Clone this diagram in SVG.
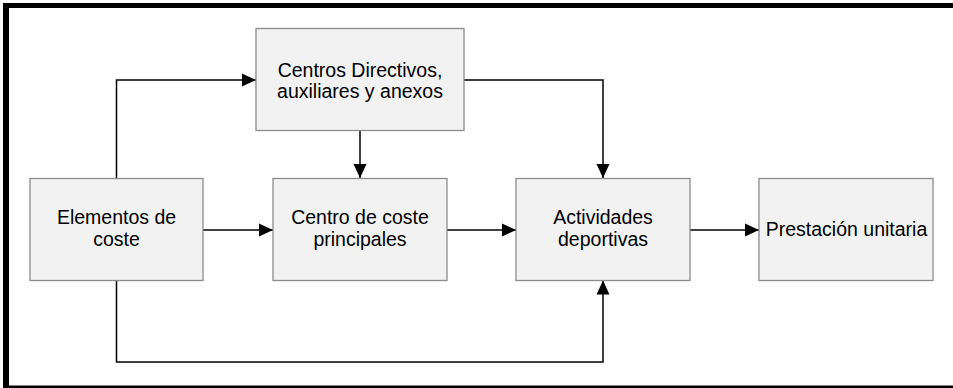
<svg xmlns="http://www.w3.org/2000/svg" width="953" height="388" viewBox="0 0 953 388">
  <style>
    .node rect { fill: #f2f2f2; stroke: #8c8c8c; stroke-width: 1.3; }
    .node text { font-family: "Liberation Sans", Arial, sans-serif; font-size: 19.5px; fill: #000; text-anchor: middle; }
    .edge { fill: none; stroke: #000; stroke-width: 1.5; marker-end: url(#arrow); }
    .frame { fill: #000; }
  </style>
  <defs>
    <marker id="arrow" markerUnits="userSpaceOnUse" markerWidth="16" markerHeight="14" viewBox="0 0 16 14" refX="15" refY="7" orient="auto">
      <path d="M1,0.5 L15,7 L1,13.5 Z" fill="#000"/>
    </marker>
  </defs>
  <rect width="953" height="388" fill="#fff"/>
  <g id="frame">
    <rect class="frame" x="3" y="3" width="6" height="385"/>
    <rect class="frame" x="3" y="3" width="950" height="5"/>
    <rect class="frame" x="3" y="385.5" width="950" height="2.5"/>
  </g>
  <g id="connectors">
    <path class="edge" d="M116.5,178 V80 H256"/>
    <path class="edge" d="M360,130.5 V178"/>
    <path class="edge" d="M464,80 H603 V178"/>
    <path class="edge" d="M203,230 H273"/>
    <path class="edge" d="M447,230 H516"/>
    <path class="edge" d="M690,230 H759"/>
    <path class="edge" d="M116.5,280.5 V362 H603 V280.5"/>
  </g>
  <g id="node-centros" class="node">
    <rect x="256" y="28.5" width="208" height="102"/>
    <text x="360" y="76.5">Centros Directivos,</text>
    <text x="360" y="97.5">auxiliares y anexos</text>
  </g>
  <g id="node-elementos" class="node">
    <rect x="30" y="178.5" width="173" height="102"/>
    <text x="116.5" y="224">Elementos de</text>
    <text x="116.5" y="245.5">coste</text>
  </g>
  <g id="node-centro-coste" class="node">
    <rect x="273" y="178.5" width="174" height="102"/>
    <text x="360" y="224">Centro de coste</text>
    <text x="360" y="245.5">principales</text>
  </g>
  <g id="node-actividades" class="node">
    <rect x="516" y="178.5" width="174" height="102"/>
    <text x="603" y="224">Actividades</text>
    <text x="603" y="245.5">deportivas</text>
  </g>
  <g id="node-prestacion" class="node">
    <rect x="759" y="178.5" width="174" height="102"/>
    <text x="846.5" y="235.5">Prestación unitaria</text>
  </g>
</svg>
